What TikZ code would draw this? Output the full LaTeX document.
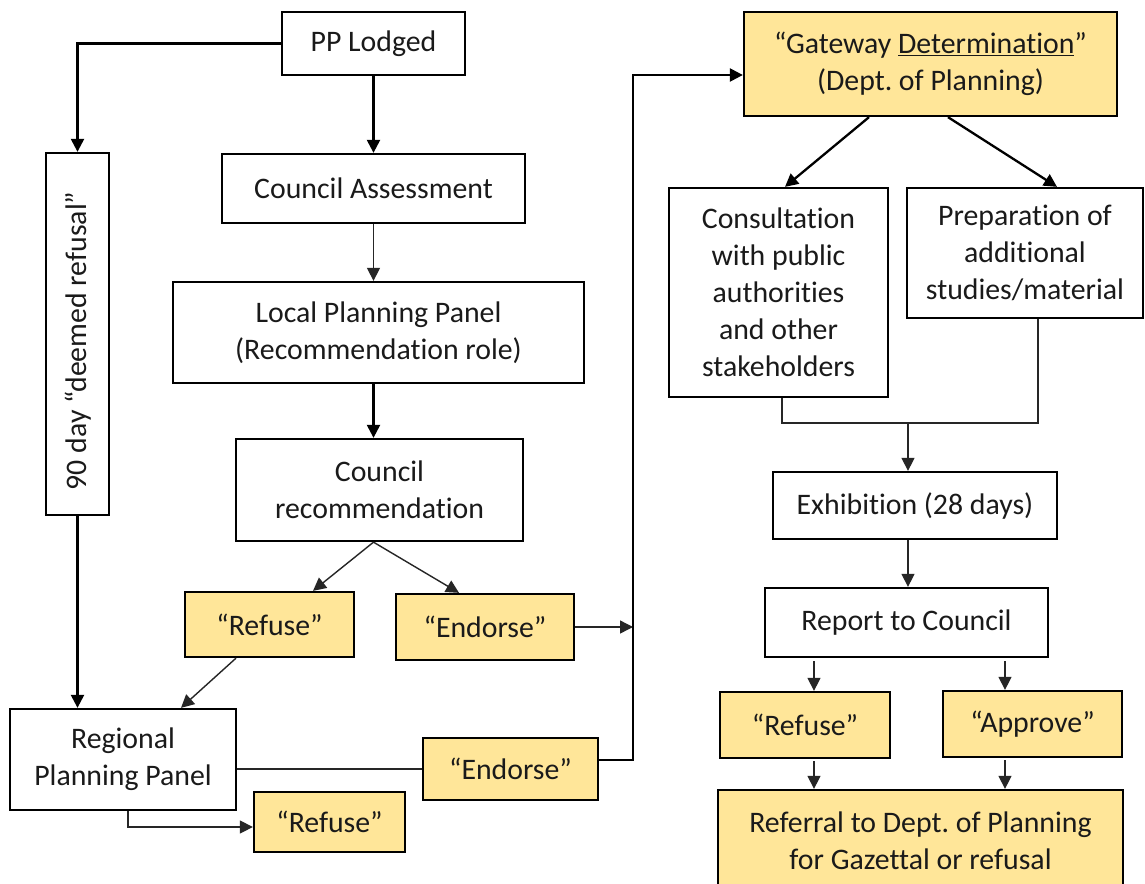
\documentclass[tikz,border=0pt]{standalone}
\usepackage{fontspec}
\setmainfont[Ligatures={NoCommon}]{Carlito}
\usetikzlibrary{arrows.meta,calc}
\definecolor{boxy}{HTML}{FFE699}
\definecolor{txt}{HTML}{1A1A1A}
\newcommand\mainfnt{\frenchspacing\fontsize{29.8}{37}\selectfont}
\tikzset{
  box/.style={draw=black, line width=2.3pt, fill=white, inner sep=0pt, align=center, text=txt, font=\mainfnt},
  ybox/.style={box, fill=boxy},
  tip/.style={-{Triangle[length=13pt,width=13pt]}},
  thickc/.style={draw=black, line width=2.3pt},
  thinc/.style={draw=black!85, line width=1.4pt},
}
\begin{document}
\begin{tikzpicture}[x=1pt,y=-1pt]
\useasboundingbox (0,0) rectangle (1145,883);
\clip (0,0) rectangle (1145,883);
\fill[white] (0,0) rectangle (1145,883);
% left column
\node[box, minimum width=183pt, minimum height=63pt] (pp) at (373.5,43.5) {PP Lodged};
\node[box, minimum width=303pt, minimum height=69pt] (ca) at (373.5,188.5) {Council Assessment};
\node[box, minimum width=411pt, minimum height=101pt] (lpp) at (378.5,332.5) {Local Planning Panel\\(Recommendation role)};
\node[box, minimum width=287pt, minimum height=102pt] (cr) at (379.5,490) {Council\\recommendation};
\node[ybox, minimum width=169pt, minimum height=65pt] (ref1) at (269.5,624.5) {“Refuse”};
\node[ybox, minimum width=178pt, minimum height=66pt] (end1) at (485,627) {“Endorse”};
\node[box, minimum width=63pt, minimum height=362pt] (deem) at (77.5,334) {};
\node[rotate=90, inner sep=0pt, text=txt, font=\mainfnt] (deemtxt) at (78,341) {90 day “deemed refusal”};
\node[box, minimum width=226pt, minimum height=101pt] (rpp) at (123,759.5) {Regional\\Planning Panel};
\node[ybox, minimum width=175pt, minimum height=62pt] (end2) at (510.5,769) {“Endorse”};
\node[ybox, minimum width=151pt, minimum height=60pt] (ref2) at (329.5,822) {“Refuse”};
% right column
\node[ybox, minimum width=373pt, minimum height=104pt] (gw) at (930.5,64) {“Gateway \underline{Determination}”\\(Dept. of Planning)};
\node[box, minimum width=219pt, minimum height=209pt] (cons) at (778.5,292.5) {Consultation\\with public\\authorities\\and other\\stakeholders};
\node[box, minimum width=236pt, minimum height=130pt] (prep) at (1025,253) {Preparation of\\additional\\studies/material};
\node[box, minimum width=284pt, minimum height=67pt] (exh) at (915,505.5) {Exhibition (28 days)};
\node[box, minimum width=283pt, minimum height=69pt] (rep) at (906.5,622.5) {Report to Council};
\node[ybox, minimum width=170pt, minimum height=66pt] (ref3) at (805,725) {“Refuse”};
\node[ybox, minimum width=179pt, minimum height=66pt] (app) at (1032.5,724) {“Approve”};
\node[ybox, minimum width=405pt, minimum height=102pt] (refl) at (920.5,841) {Referral to Dept. of Planning\\for Gazettal or refusal};
% helper coordinates
\coordinate (vx) at (633,75);
\coordinate (m) at (908,423);
\coordinate (ax) at (814,0);
\coordinate (bx) at (1005,0);
% connectors left
\draw[thickc, tip] (pp.west) -| (deem.north);
\draw[thickc, tip] (pp.south) -- (ca.north);
\draw[thinc, tip] (ca.south) -- (ca.south |- lpp.north);
\draw[thickc, tip] (ca.south |- lpp.south) -- (ca.south |- cr.north);
\draw[thinc, tip] (ca.south |- cr.south) -- ([xshift=43.5pt]ref1.north);
\draw[thinc, tip] (ca.south |- cr.south) -- ([xshift=-26pt]end1.north);
\draw[thinc, tip] ([xshift=-33.5pt]ref1.south) -- ([xshift=58pt]rpp.north);
\draw[thickc, tip] (deem.south) -- (deem.south |- rpp.north);
\draw[thinc] (rpp.east |- end2.west) -- (end2.west);
\draw[thinc, tip] ([xshift=5pt]rpp.south) |- ([yshift=-5pt]ref2.west);
\draw[thinc, tip] (end1.east) -- (end1.east -| vx);
\draw[thickc, tip] ([yshift=9pt]end2.east) -| (vx) -- ([yshift=-11pt]gw.west);
% connectors right
\draw[thickc, tip] ([xshift=-61.5pt]gw.south) -- ([xshift=6.5pt]cons.north);
\draw[thickc, tip] ([xshift=17.5pt]gw.south) -- ([xshift=32pt]prep.north);
\draw[thinc] ([xshift=3.5pt]cons.south) |- (m) -| ([xshift=13pt]prep.south);
\draw[thinc, tip] (m) -- (m |- exh.north);
\draw[thinc, tip] (m |- exh.south) -- (m |- rep.north);
\draw[thinc, tip] ([yshift=-3pt]ax |- rep.south) -- (ax |- ref3.north);
\draw[thinc, tip] ([yshift=-3pt]bx |- rep.south) -- (bx |- app.north);
\draw[thinc, tip] ([yshift=-2pt]ax |- ref3.south) -- (ax |- refl.north);
\draw[thinc, tip] ([yshift=-2pt]bx |- app.south) -- (bx |- refl.north);
\end{tikzpicture}
\end{document}
